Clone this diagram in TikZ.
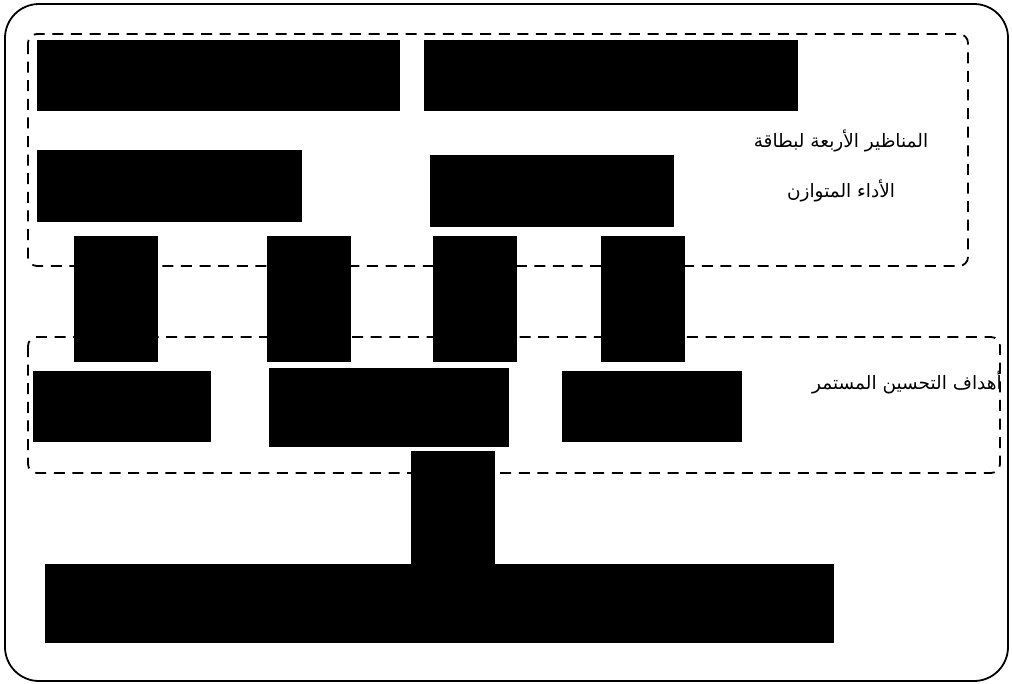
\documentclass[tikz,border=0pt]{standalone}
\usepackage{fontspec}
\newfontfamily\arabicfont[Script=Arabic]{DejaVu Sans}
\TeXXeTstate=1
\usetikzlibrary{positioning}

\begin{document}
\begin{tikzpicture}[
    x=1pt, y=-1pt,
    blk/.style={rectangle, fill=black, inner sep=0pt, anchor=north west},
    group/.style={draw, line width=1.8pt, dash pattern=on 11pt off 7.6pt, rounded corners=9pt},
    frame/.style={draw, line width=1.8pt, rounded corners=34pt},
    lbl/.style={font=\arabicfont\fontsize{18.5}{50}\selectfont, align=center, inner sep=0pt}
]
    \useasboundingbox (0,0) rectangle (1012,683);
    \draw [frame] (5,4) rectangle (1008,681);
    % four perspectives group
    \draw [group] (28,34) rectangle (968,266);
    \draw [group] (28,337) rectangle (1000,473);
    % blocks
    \node (pa) [blk, minimum width=363pt, minimum height=71pt] at (37,40) {};
    \node (pb) [blk, minimum width=374pt, minimum height=71pt] at (424,40) {};
    \node (pc) [blk, minimum width=265pt, minimum height=72pt] at (37,150) {};
    \node (pd) [blk, minimum width=244pt, minimum height=72pt] at (430,155) {};
    \node (la) [blk, minimum width=84pt, minimum height=126pt] at (74,236) {};
    \node (lb) [blk, minimum width=84pt, minimum height=126pt] at (267,236) {};
    \node (lc) [blk, minimum width=84pt, minimum height=126pt] at (433,236) {};
    \node (ld) [blk, minimum width=84pt, minimum height=126pt] at (601,236) {};
    \node (ga) [blk, minimum width=178pt, minimum height=71pt] at (33,371) {};
    \node (gb) [blk, minimum width=240pt, minimum height=79pt] at (269,368) {};
    \node (gc) [blk, minimum width=180pt, minimum height=71pt] at (562,371) {};
    \node (stem) [blk, minimum width=84pt, minimum height=114pt] at (411,451) {};
    \node (base) [blk, minimum width=789pt, minimum height=79pt] at (45,564) {};
    % labels
    \node (persp) [lbl] at (841,166) {\beginR المناظير الأربعة لبطاقة\endR\\\beginR الأداء المتوازن\endR};
    \node (goals) [lbl, anchor=east] at (1002,383) {\beginR أهداف التحسين المستمر\endR};
\end{tikzpicture}
\end{document}
